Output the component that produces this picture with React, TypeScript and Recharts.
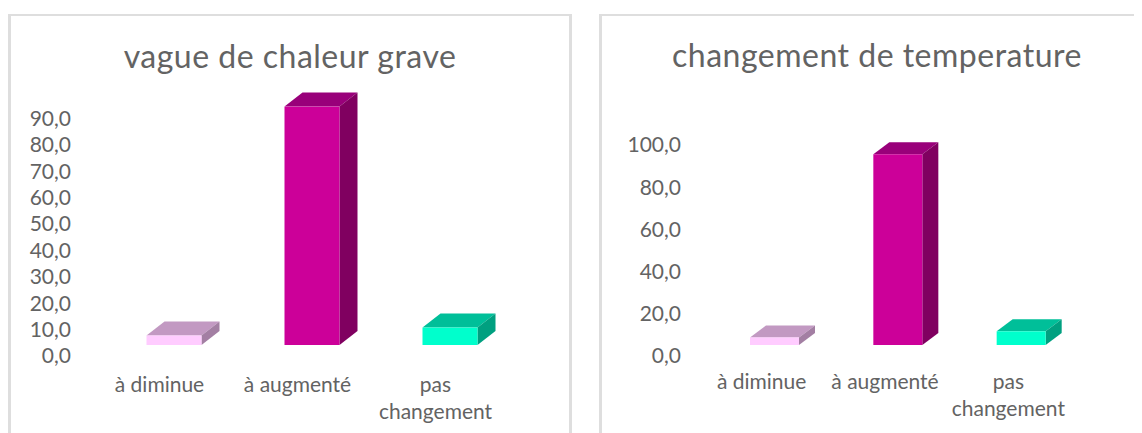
import { Bar, BarChart, XAxis, YAxis } from "recharts";

const categories = ["à diminue", "à augmenté", "pas changement"];
const heatValues = [3.6, 90.3, 6.6];
const tempValues = [3.6, 90.4, 6.5];
const heatTicks = [0, 10, 20, 30, 40, 50, 60, 70, 80, 90];
const tempTicks = [0, 20, 40, 60, 80, 100];

const front = ["#ffccff", "#cc0099", "#00ffcc"];
const top = ["#c299c2", "#99007a", "#00bf99"];
const side = ["#a37fa3", "#800060", "#00a080"];
const TEXT = "#636363";
const FONT = "Lato, 'Open Sans', sans-serif";

const toRows = (values: number[]) =>
  categories.map((name, i) => ({ name, value: values[i], index: i }));

const formatTick = (v: number) => v.toFixed(1).replace(".", ",");

// excel style 3d box: front face comes from the scale, the rest is just depth
function Box3D(props: any) {
  const { x, y, width, height, payload, depthX, depthY } = props;
  const i = payload.index;
  const r = x + width;
  const b = y + height;
  return (
    <g>
      <polygon
        points={`${x},${y} ${x + depthX},${y - depthY} ${r + depthX},${y - depthY} ${r},${y}`}
        fill={top[i]}
      />
      <polygon
        points={`${r},${y} ${r + depthX},${y - depthY} ${r + depthX},${b - depthY} ${r},${b}`}
        fill={side[i]}
      />
      <rect x={x} y={y} width={width} height={height} fill={front[i]} />
    </g>
  );
}

function CategoryTick(props: any) {
  const { x, y, payload, shift, labelY } = props;
  const words =
    payload.value === "pas changement" ? ["pas", "changement"] : [payload.value];
  return (
    <text x={x + shift} y={y + labelY} textAnchor="middle" fill={TEXT} fontSize={21} fontFamily={FONT}>
      {words.map((w: string, i: number) => (
        <tspan key={w} x={x + shift} dy={i === 0 ? 0 : 27}>
          {w}
        </tspan>
      ))}
    </text>
  );
}

type PanelProps = {
  title: string;
  titleX: number;
  titleY: number;
  values: number[];
  ticks: number[];
  left: number;
  marginTop: number;
  marginRight: number;
  barSize: number;
  depthX: number;
  depthY: number;
  labelShift: number;
  labelY: number;
  yWidth: number;
  xPad: number;
};

function Panel(p: PanelProps) {
  return (
    <div style={{ position: "absolute", left: p.left, top: 0, width: 570, height: 433 }}>
      <BarChart
        width={570}
        height={433}
        data={toRows(p.values)}
        margin={{ top: p.marginTop, right: p.marginRight, bottom: 0, left: 0 }}
        barCategoryGap={0}
      >
        <text
          x={p.titleX}
          y={p.titleY}
          textAnchor="middle"
          fill={TEXT}
          fontSize={32}
          letterSpacing={0.5}
          fontFamily={FONT}
        >
          {p.title}
        </text>
        <XAxis
          dataKey="name"
          axisLine={false}
          tickLine={false}
          interval={0}
          height={88}
          padding={{ left: p.xPad, right: 0 }}
          tick={<CategoryTick shift={p.labelShift} labelY={p.labelY} />}
        />
        <YAxis
          width={p.yWidth}
          domain={[0, 100]}
          ticks={p.ticks}
          interval={0}
          axisLine={false}
          tickLine={false}
          tickFormatter={formatTick}
          tick={{ fill: TEXT, fontSize: 21, fontFamily: FONT, dy: 11 }}
        />
        <Bar
          dataKey="value"
          barSize={p.barSize}
          isAnimationActive={false}
          shape={<Box3D depthX={p.depthX} depthY={p.depthY} />}
        />
      </BarChart>
    </div>
  );
}

const frameStyle = {
  position: "absolute",
  top: 14,
  height: 430,
  boxSizing: "border-box",
  borderStyle: "solid",
  borderColor: "#dedede",
  borderWidth: "2px 3px",
  background: "#fff",
} as const;

export default function App() {
  return (
    <div
      style={{
        position: "relative",
        width: 1142,
        height: 433,
        overflow: "hidden",
        margin: "-8px 0 0 -8px",
      }}
    >
      <div style={{ ...frameStyle, left: 8, width: 564 }} />
      <div style={{ ...frameStyle, left: 599, width: 560 }} />
      <Panel
        title="vague de chaleur grave"
        titleX={290}
        titleY={68}
        values={heatValues}
        ticks={heatTicks}
        left={0}
        marginTop={81}
        marginRight={51.5}
        barSize={55}
        depthX={18}
        depthY={14}
        labelShift={-14}
        labelY={39}
        yWidth={79}
        xPad={25.5}
      />
      <Panel
        title="changement de temperature"
        titleX={305}
        titleY={67}
        values={tempValues}
        ticks={tempTicks}
        left={572}
        marginTop={134}
        marginRight={59}
        barSize={49}
        depthX={16}
        depthY={12}
        labelShift={-13}
        labelY={36}
        yWidth={117}
        xPad={24}
      />
    </div>
  );
}
